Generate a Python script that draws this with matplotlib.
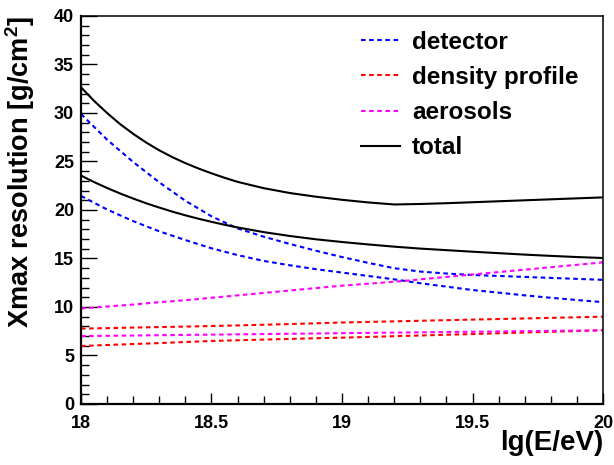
import matplotlib
matplotlib.use("Agg")
import matplotlib.pyplot as plt
from matplotlib.ticker import MultipleLocator

plt.rcParams['font.family'] = ['Liberation Sans', 'DejaVu Sans']
plt.rcParams['font.weight'] = 'bold'
plt.rcParams['mathtext.fontset'] = 'custom'
plt.rcParams['mathtext.bf'] = 'Liberation Sans:bold'
plt.rcParams['mathtext.rm'] = 'Liberation Sans:bold'

# lg(E/eV) grid for the component curves
lg_e = [18.0, 18.1, 18.2, 18.3, 18.4, 18.5, 18.6, 18.7, 18.8, 18.9, 19.0,
        19.1, 19.2, 19.3, 19.4, 19.5, 19.6, 19.7, 19.8, 19.9, 20.0]
# finer grid at low energy for the totals
lg_e_tot = [18.0, 18.05, 18.1, 18.15, 18.2, 18.25, 18.3, 18.35, 18.4, 18.45,
            18.5, 18.55, 18.6, 18.7, 18.8, 18.9, 19.0, 19.1, 19.2, 19.3, 19.4,
            19.5, 19.6, 19.7, 19.8, 19.9, 20.0]

# Xmax resolution contributions [g/cm^2], two scenarios each
detector_a = [29.9, 27.25, 24.95, 22.85, 20.95, 19.35, 18.1, 17.25, 16.5, 15.8, 15.15,
              14.55, 14.0, 13.65, 13.45, 13.3, 13.2, 13.1, 13.0, 12.9, 12.8]
detector_b = [21.45, 20.05, 18.85, 17.8, 16.9, 16.05, 15.35, 14.75, 14.3, 13.9, 13.55,
              13.2, 12.85, 12.45, 12.1, 11.75, 11.48, 11.2, 10.95, 10.72, 10.5]
density_a = [7.77, 7.82, 7.88, 7.93, 7.98, 8.04, 8.1, 8.17, 8.24, 8.32, 8.4,
             8.46, 8.52, 8.58, 8.64, 8.7, 8.76, 8.82, 8.88, 8.94, 9.0]
density_b = [5.98, 6.08, 6.18, 6.28, 6.39, 6.5, 6.57, 6.64, 6.71, 6.78, 6.84,
             6.91, 6.99, 7.06, 7.14, 7.21, 7.29, 7.37, 7.45, 7.52, 7.6]
aerosols_a = [9.85, 10.05, 10.25, 10.5, 10.7, 10.95, 11.2, 11.45, 11.7, 11.95, 12.2,
              12.4, 12.6, 12.85, 13.1, 13.35, 13.6, 13.85, 14.1, 14.35, 14.6]
aerosols_b = [7.0, 7.03, 7.06, 7.09, 7.12, 7.15, 7.18, 7.21, 7.24, 7.27, 7.3,
              7.33, 7.36, 7.39, 7.42, 7.45, 7.48, 7.51, 7.54, 7.57, 7.6]
total_a = [32.65, 31.25, 30.0, 28.85, 27.85, 26.95, 26.15, 25.45, 24.83, 24.28,
           23.78, 23.32, 22.9, 22.25, 21.75, 21.37, 21.05, 20.78, 20.57, 20.62,
           20.7, 20.8, 20.9, 21.0, 21.1, 21.2, 21.3]
total_b = [23.55, 22.88, 22.27, 21.7, 21.18, 20.69, 20.25, 19.83, 19.45, 19.1,
           18.78, 18.48, 18.2, 17.72, 17.32, 16.98, 16.7, 16.45, 16.22, 16.02,
           15.86, 15.7, 15.55, 15.4, 15.27, 15.15, 15.05]

fig = plt.figure(figsize=(6.14, 4.65), dpi=100)
ax = fig.add_axes([0.1319, 0.1312, 0.8502, 0.8344])

dash = dict(linestyle=(0, (2.2, 1.7)), linewidth=1.5)
l_det, = ax.plot(lg_e, detector_a, color='#0000ff', **dash)
ax.plot(lg_e, detector_b, color='#0000ff', **dash)
l_den, = ax.plot(lg_e, density_a, color='#ff0000', **dash)
ax.plot(lg_e, density_b, color='#ff0000', **dash)
l_aer, = ax.plot(lg_e, aerosols_a, color='#ff00ff', **dash)
ax.plot(lg_e, aerosols_b, color='#ff00ff', **dash)
l_tot, = ax.plot(lg_e_tot, total_a, color='black', linewidth=1.5)
ax.plot(lg_e_tot, total_b, color='black', linewidth=1.5)

ax.set_xlim(18, 20)
ax.set_ylim(0, 40)
ax.xaxis.set_major_locator(MultipleLocator(0.5))
ax.xaxis.set_minor_locator(MultipleLocator(0.1))
ax.yaxis.set_major_locator(MultipleLocator(5))
ax.yaxis.set_minor_locator(MultipleLocator(1))
ax.xaxis.set_major_formatter(plt.FuncFormatter(lambda v, p: f"{v:g}"))
ax.tick_params(which='both', direction='in', top=False, right=False,
               labelsize=13, width=1.0)
ax.tick_params(axis='x', which='major', length=8, pad=8)
ax.tick_params(axis='x', which='minor', length=5.5)
ax.tick_params(axis='y', which='major', length=11.5, pad=5)
ax.tick_params(axis='y', which='minor', length=5.5)
for lab in ax.get_xticklabels() + ax.get_yticklabels():
    lab.set_fontweight('bold')
for side in ['left', 'bottom']:
    ax.spines[side].set_linewidth(1.6)
for side in ['right', 'top']:
    ax.spines[side].set_linewidth(1.1)

ax.set_ylabel(r'Xmax resolution [g/cm$^{\mathbf{2}}$]', fontsize=19.5,
              fontweight='bold', loc='top')
ax.yaxis.set_label_coords(-0.084, 1.0)
ax.set_xlabel('lg(E/eV)', fontsize=20, fontweight='bold', loc='right')
ax.xaxis.set_label_coords(1.0, -0.068)

ax.legend([l_det, l_den, l_aer, l_tot],
          ['detector', 'density profile', 'aerosols', 'total'],
          loc='upper left', bbox_to_anchor=(0.536, 0.962), frameon=False,
          prop={'weight': 'bold', 'size': 17.5}, handlelength=1.6,
          handletextpad=0.5, labelspacing=0.5, borderpad=0, borderaxespad=0)

fig.savefig('out.png', dpi=100)
